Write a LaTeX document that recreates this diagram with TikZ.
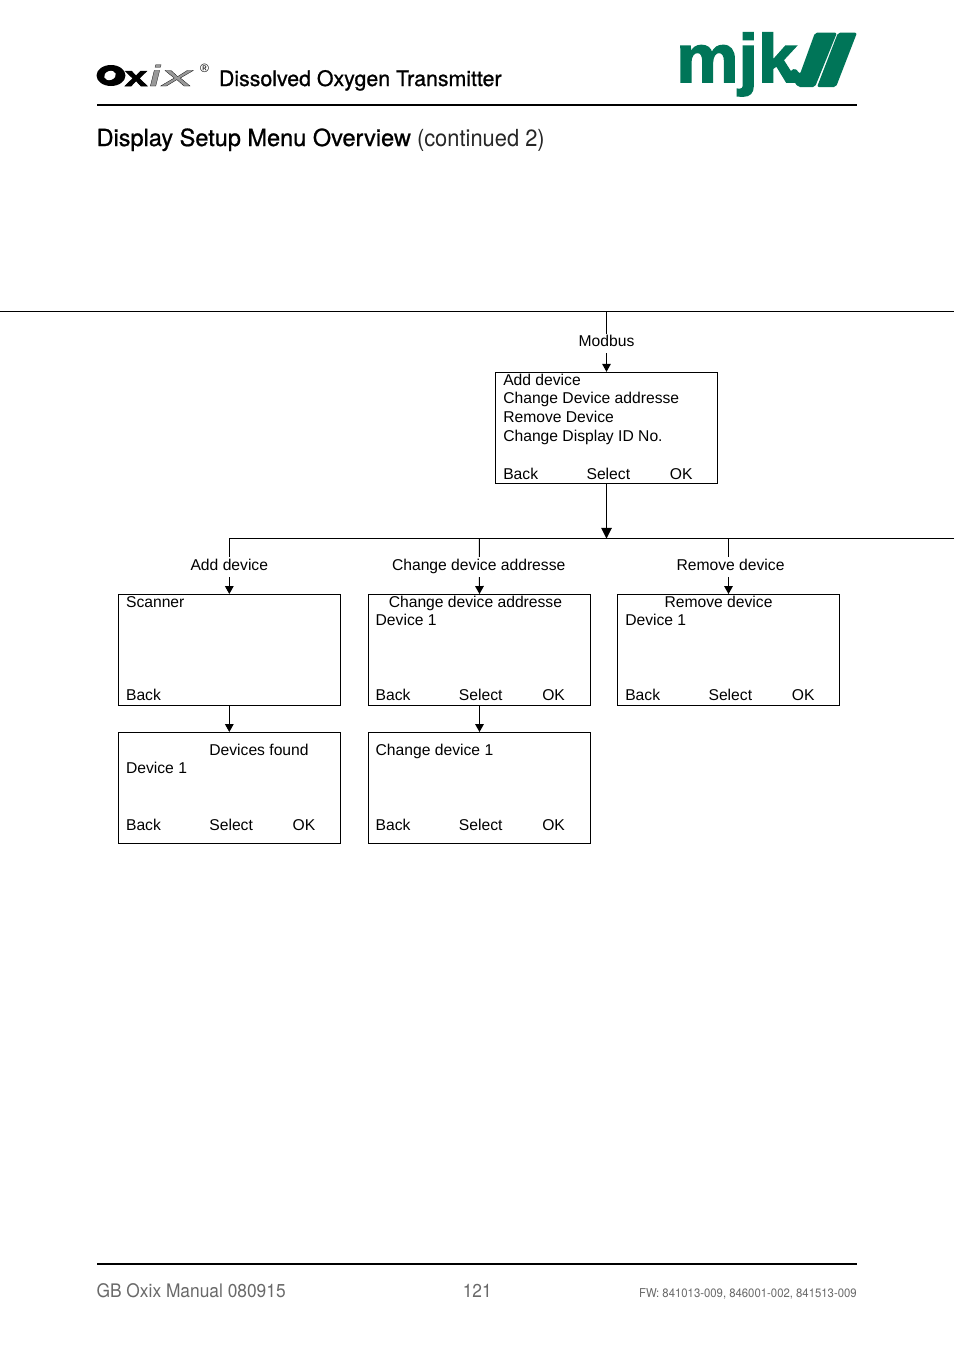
\documentclass[tikz,border=0pt]{standalone}
\usepackage{fontspec}
\usepackage{xcolor}
\usetikzlibrary{arrows.meta, positioning, backgrounds}
\setmainfont{Liberation Sans}
\newfontfamily\headlight[FakeStretch=0.93]{TeX Gyre Heros}
\newfontfamily\headbold[FakeBold=0.9]{TeX Gyre Heros}
\newfontfamily\ghostfont[FakeBold=0.9,FakeSlant=0.25,FakeStretch=2.1]{Liberation Sans}
\newfontfamily\logofont[BoldFeatures={FakeBold=2.2,FakeStretch=1.03}]{Liberation Sans}
\definecolor{mjkgreen}{RGB}{0, 117, 88}
\definecolor{footgray}{RGB}{105, 105, 105}
\tikzset{
  menubox/.style={draw, line width=0.75pt, minimum width=222pt*0.75, minimum height=111pt*0.75, inner sep=0pt},
  menutext/.style={anchor=base west, inner sep=0pt, font=\fontsize{11.75}{14}\selectfont},
  flowlabel/.style={anchor=base, inner xsep=1.5pt, inner ysep=1pt, text depth=4pt, fill=white, font=\fontsize{11.75}{14}\selectfont},
  flowline/.style={line width=0.75pt},
  flowarrow/.style={line width=0.75pt, -{Triangle[length=6pt, width=6.5pt]}},
  busarrow/.style={line width=0.75pt, -{Triangle[length=8pt, width=8pt]}},
  headrule/.style={line width=1.5pt}
}
% back / select / ok row of a menu box
\newcommand{\softkeys}[3]{%
  \node[menutext] (#1back) at (#2,#3) {Back};
  \node[menutext] (#1select) at (#2+83.3,#3) {Select};
  \node[menutext] (#1ok) at (#2+166.6,#3) {OK};
}
\begin{document}
\begin{tikzpicture}[x=0.75pt, y=-0.75pt]
  \useasboundingbox (0,0) rectangle (954,1354);

  % header
  \fill (111,75.5) ellipse [x radius=14.5, y radius=10.5];
  \fill[white, rotate around={18:(110,75.5)}] (110,75.5) ellipse [x radius=6, y radius=4.5];
  \node[anchor=base west, inner sep=0pt, font=\fontsize{21}{21}\logofont\bfseries, xscale=1.4, transform shape] (oxx) at (124.5,86) {x};
  \node[anchor=base west, inner sep=0pt, font=\fontsize{22}{22}\ghostfont] (oxix) at (146,86) {\special{pdf:bcolor [0.6] [0]}ix\special{pdf:ecolor}};
  \node[anchor=center, inner sep=0pt, font=\fontsize{9}{9}\selectfont] (oxreg) at (204.5,68.5) {\textregistered};
  \node[anchor=base west, inner sep=0pt, font=\fontsize{16}{18}\headbold] (doctitle) at (218.7,86) {Dissolved Oxygen Transmitter};
  \node[anchor=base west, inner sep=0pt, font=\fontsize{51}{52}\logofont\bfseries, text=mjkgreen] (mjk) at (676,82) {mjk};
  \fill[mjkgreen, rounded corners=1.5pt] (815,32.7) -- (837,32.7) -- (815,87) -- (798,87) -- (788,73) -- (795,68) -- (800,74) -- cycle;
  \fill[mjkgreen, rounded corners=1.5pt] (838,32.7) -- (857,32.7) -- (836,87) -- (817,87) -- cycle;
  \coordinate (headl) at (97,105);
  \coordinate (headr) at (857,105);
  \draw[headrule] (headl) -- (headr);
  \node[anchor=base west, inner sep=0pt, font=\fontsize{17.65}{20}\headlight] (pagetitle) at (96.3,146) {{\headbold Display Setup Menu Overview} {\color{black!85}(continued 2)}};

  % top of the flow
  \coordinate (topl) at (0,311.5);
  \coordinate (topr) at (954,311.5);
  \coordinate (modtop) at (606.5,311.5);
  \draw[flowline] (topl) -- (topr);
  \node[flowlabel] (modbus) at (606.5,346.5) {Modbus};

  \node[menubox] (modmenu) at (606.5,427.8) {};
  \node[menutext] (mod1) at (503,385) {Add device};
  \node[menutext] (mod2) at (503,403.3) {Change Device addresse};
  \node[menutext] (mod3) at (503,422) {Remove Device};
  \node[menutext] (mod4) at (503,441) {Change Display ID No.};
  \softkeys{mod}{503}{479}

  % bus
  \coordinate (busl) at (229.3,538.5);
  \coordinate (busm) at (606.5,538.5);
  \coordinate (busr) at (954,538.5);
  \coordinate (busa) at (229.3,538.5);
  \coordinate (busb) at (479.3,538.5);
  \coordinate (busc) at (728.5,538.5);
  \draw[flowline] (busr) -- (busl);

  % upper row
  \node[flowlabel] (addlabel) at (229.3,570) {Add device};
  \node[flowlabel] (chglabel) at (478.7,570) {Change device addresse};
  \node[flowlabel] (remlabel) at (730.5,570) {Remove device};

  \node[menubox] (scanbox) at (229.3,650) {};
  \node[menubox] (chgbox) at (479.5,650) {};
  \node[menubox] (rembox) at (728.5,650) {};

  \node[menutext] (scan1) at (125.8,607.3) {Scanner};
  \node[menutext] (scanback) at (125.8,700) {Back};
  \node[menutext] (chg1) at (388.5,607.3) {Change device addresse};
  \node[menutext] (chg2) at (375.4,625.3) {Device 1};
  \softkeys{chg}{375.4}{700}
  \node[menutext] (rem1) at (664.3,607.3) {Remove device};
  \node[menutext] (rem2) at (625,625.3) {Device 1};
  \softkeys{rem}{625}{700}

  % lower row
  \node[menubox] (foundbox) at (229.3,788) {};
  \node[menubox] (devbox) at (479.5,788) {};
  \node[menutext] (found1) at (209.1,755.3) {Devices found};
  \node[menutext] (found2) at (125.8,773.3) {Device 1};
  \softkeys{found}{125.8}{830}
  \node[menutext] (dev1) at (375.4,755.3) {Change device 1};
  \softkeys{dev}{375.4}{830}

  % connectors
  \begin{scope}[on background layer]
    \draw[flowarrow] (modtop) -- (modmenu.north);
    \draw[flowarrow] (busa) -- (scanbox.north);
    \draw[flowarrow] (busb) -- (chgbox.north);
    \draw[flowarrow] (busc) -- (rembox.north);
  \end{scope}
  \draw[busarrow] (modmenu.south) -- (busm);
  \draw[flowarrow] (scanbox.south) -- (foundbox.north);
  \draw[flowarrow] (chgbox.south) -- (devbox.north);

  % footer
  \coordinate (footl) at (97,1264);
  \coordinate (footr) at (857,1264);
  \draw[headrule] (footl) -- (footr);
  \node[anchor=base west, inner sep=0pt, text=footgray, font=\fontsize{14}{16}\headlight] (footman) at (96.3,1297) {GB Oxix Manual 080915};
  \node[anchor=base west, inner sep=0pt, text=footgray, font=\fontsize{14}{16}\headlight] (footpage) at (462.5,1297) {121};
  \node[anchor=base east, inner sep=0pt, text=footgray, font=\fontsize{9.15}{10}\selectfont\headlight] (footfw) at (857,1297) {FW: 841013-009, 846001-002, 841513-009};
\end{tikzpicture}
\end{document}
